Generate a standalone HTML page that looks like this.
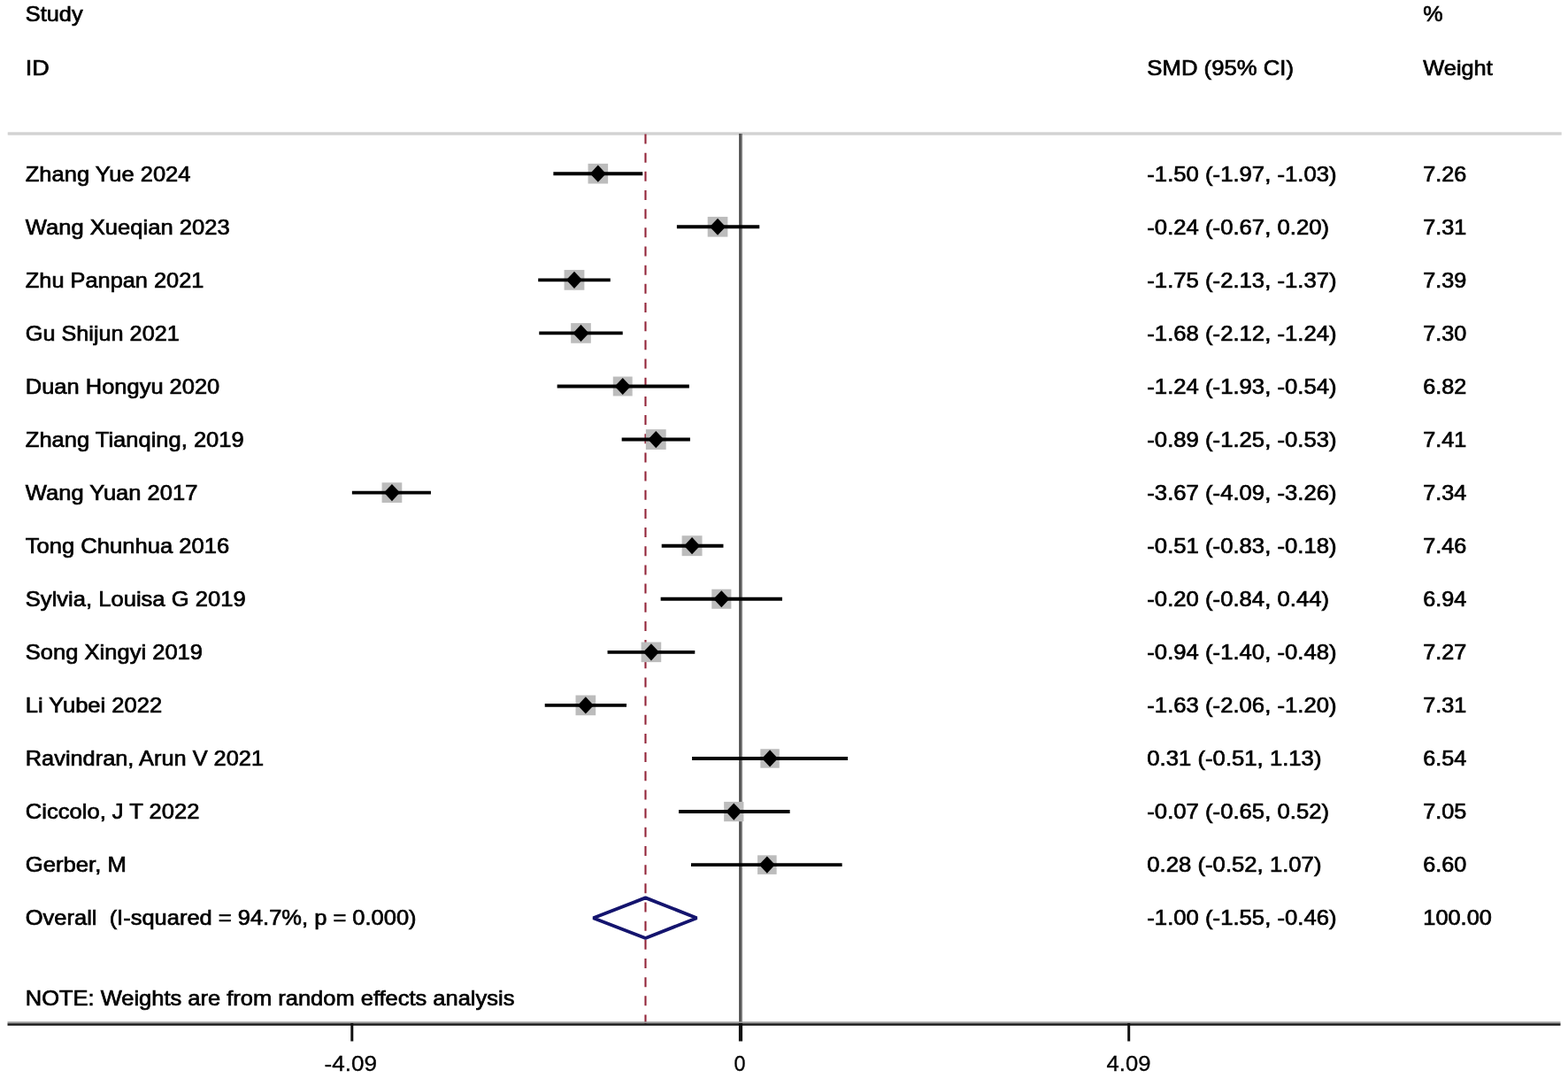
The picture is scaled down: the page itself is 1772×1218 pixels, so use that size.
<!DOCTYPE html>
<html><head><meta charset="utf-8"><style>
html,body{margin:0;padding:0;background:#fff;}
body{width:1772px;height:1218px;overflow:hidden;}
svg{display:block;filter:blur(0.4px);}
</style></head><body>
<svg width="1772" height="1218" viewBox="0 0 1772 1218">
<rect width="1772" height="1218" fill="#fff"/>
<rect x="8.7" y="149.3" width="1756" height="3.4" fill="#d2d2d2"/>
<rect x="835.2" y="151" width="1.9" height="1006" fill="#444"/>
<rect x="837.1" y="151" width="1.7" height="1006" fill="#666"/>
<line x1="729.48" y1="151.5" x2="729.48" y2="1157" stroke="#93263a" stroke-width="2.1" stroke-dasharray="11 10.17"/>
<rect x="664.52" y="184.90" width="22.60" height="22.60" fill="#bcbcbc"/>
<line x1="625.38" y1="196.20" x2="726.26" y2="196.20" stroke="#000" stroke-width="3.9"/>
<polygon points="666.82,196.20 675.82,186.60 684.82,196.20 675.82,205.80" fill="#000"/>
<rect x="799.70" y="244.93" width="22.68" height="22.68" fill="#bcbcbc"/>
<line x1="764.90" y1="256.27" x2="858.26" y2="256.27" stroke="#000" stroke-width="3.9"/>
<polygon points="802.04,256.27 811.04,246.67 820.04,256.27 811.04,265.87" fill="#000"/>
<rect x="637.59" y="304.94" width="22.80" height="22.80" fill="#bcbcbc"/>
<line x1="608.21" y1="316.34" x2="689.77" y2="316.34" stroke="#000" stroke-width="3.9"/>
<polygon points="639.99,316.34 648.99,306.74 657.99,316.34 648.99,325.94" fill="#000"/>
<rect x="645.17" y="365.08" width="22.66" height="22.66" fill="#bcbcbc"/>
<line x1="609.28" y1="376.41" x2="703.72" y2="376.41" stroke="#000" stroke-width="3.9"/>
<polygon points="647.50,376.41 656.50,366.81 665.50,376.41 656.50,386.01" fill="#000"/>
<rect x="692.77" y="425.53" width="21.90" height="21.90" fill="#bcbcbc"/>
<line x1="629.67" y1="436.48" x2="778.85" y2="436.48" stroke="#000" stroke-width="3.9"/>
<polygon points="694.72,436.48 703.72,426.88 712.72,436.48 703.72,446.08" fill="#000"/>
<rect x="729.87" y="485.13" width="22.83" height="22.83" fill="#bcbcbc"/>
<line x1="702.65" y1="496.55" x2="779.92" y2="496.55" stroke="#000" stroke-width="3.9"/>
<polygon points="732.29,496.55 741.29,486.95 750.29,496.55 741.29,506.15" fill="#000"/>
<rect x="431.57" y="545.26" width="22.72" height="22.72" fill="#bcbcbc"/>
<line x1="397.86" y1="556.62" x2="486.94" y2="556.62" stroke="#000" stroke-width="3.9"/>
<polygon points="433.94,556.62 442.94,547.02 451.94,556.62 442.94,566.22" fill="#000"/>
<rect x="770.61" y="605.24" width="22.91" height="22.91" fill="#bcbcbc"/>
<line x1="747.72" y1="616.69" x2="817.48" y2="616.69" stroke="#000" stroke-width="3.9"/>
<polygon points="773.07,616.69 782.07,607.09 791.07,616.69 782.07,626.29" fill="#000"/>
<rect x="804.29" y="665.71" width="22.10" height="22.10" fill="#bcbcbc"/>
<line x1="746.65" y1="676.76" x2="884.02" y2="676.76" stroke="#000" stroke-width="3.9"/>
<polygon points="806.34,676.76 815.34,667.16 824.34,676.76 815.34,686.36" fill="#000"/>
<rect x="724.61" y="725.52" width="22.62" height="22.62" fill="#bcbcbc"/>
<line x1="686.55" y1="736.83" x2="785.29" y2="736.83" stroke="#000" stroke-width="3.9"/>
<polygon points="726.92,736.83 735.92,727.23 744.92,736.83 735.92,746.43" fill="#000"/>
<rect x="650.53" y="785.56" width="22.68" height="22.68" fill="#bcbcbc"/>
<line x1="615.72" y1="796.90" x2="708.02" y2="796.90" stroke="#000" stroke-width="3.9"/>
<polygon points="652.87,796.90 661.87,787.30 670.87,796.90 661.87,806.50" fill="#000"/>
<rect x="859.34" y="846.24" width="21.45" height="21.45" fill="#bcbcbc"/>
<line x1="782.07" y1="856.97" x2="958.07" y2="856.97" stroke="#000" stroke-width="3.9"/>
<polygon points="861.07,856.97 870.07,847.37 879.07,856.97 870.07,866.57" fill="#000"/>
<rect x="818.15" y="905.90" width="22.27" height="22.27" fill="#bcbcbc"/>
<line x1="767.04" y1="917.04" x2="892.61" y2="917.04" stroke="#000" stroke-width="3.9"/>
<polygon points="820.29,917.04 829.29,907.44 838.29,917.04 829.29,926.64" fill="#000"/>
<rect x="856.08" y="966.34" width="21.55" height="21.55" fill="#bcbcbc"/>
<line x1="780.99" y1="977.11" x2="951.63" y2="977.11" stroke="#000" stroke-width="3.9"/>
<polygon points="857.85,977.11 866.85,967.51 875.85,977.11 866.85,986.71" fill="#000"/>
<polygon points="670.45,1037.18 729.48,1014.38 787.43,1037.18 729.48,1059.98" fill="none" stroke="#14146e" stroke-width="3.8" stroke-linejoin="bevel"/>
<rect x="8.5" y="1154.3" width="1755" height="2.1" fill="#9a9a9a"/>
<rect x="8.5" y="1156.3" width="1755" height="2.5" fill="#1a1a1a"/>
<rect x="396.30" y="1156" width="3" height="20.5" fill="#111"/>
<rect x="834.90" y="1156" width="4.2" height="20.5" fill="#111"/>
<rect x="1274.20" y="1156" width="3" height="20.5" fill="#111"/>
<g font-family="Liberation Sans, Arial, sans-serif" font-size="24.50px" fill="#000" stroke="#000" stroke-width="0.70">
<text x="28.80" y="24.30" textLength="64.75" lengthAdjust="spacingAndGlyphs">Study</text>
<text x="28.80" y="85.20" textLength="26.99" lengthAdjust="spacingAndGlyphs">ID</text>
<text x="1296.30" y="85.20" textLength="165.80" lengthAdjust="spacingAndGlyphs">SMD (95% CI)</text>
<text x="1608.30" y="24.30" textLength="22.40" lengthAdjust="spacingAndGlyphs">%</text>
<text x="1608.30" y="85.20" textLength="78.48" lengthAdjust="spacingAndGlyphs">Weight</text>
<text x="28.80" y="204.50" textLength="186.64" lengthAdjust="spacingAndGlyphs">Zhang Yue 2024</text>
<text x="1296.30" y="204.50" textLength="214.29" lengthAdjust="spacingAndGlyphs">-1.50 (-1.97, -1.03)</text>
<text x="1608.30" y="204.50" textLength="49.11" lengthAdjust="spacingAndGlyphs">7.26</text>
<text x="28.80" y="264.57" textLength="230.92" lengthAdjust="spacingAndGlyphs">Wang Xueqian 2023</text>
<text x="1296.30" y="264.57" textLength="205.73" lengthAdjust="spacingAndGlyphs">-0.24 (-0.67, 0.20)</text>
<text x="1608.30" y="264.57" textLength="49.11" lengthAdjust="spacingAndGlyphs">7.31</text>
<text x="28.80" y="324.64" textLength="201.64" lengthAdjust="spacingAndGlyphs">Zhu Panpan 2021</text>
<text x="1296.30" y="324.64" textLength="214.29" lengthAdjust="spacingAndGlyphs">-1.75 (-2.13, -1.37)</text>
<text x="1608.30" y="324.64" textLength="49.11" lengthAdjust="spacingAndGlyphs">7.39</text>
<text x="28.80" y="384.71" textLength="173.93" lengthAdjust="spacingAndGlyphs">Gu Shijun 2021</text>
<text x="1296.30" y="384.71" textLength="214.29" lengthAdjust="spacingAndGlyphs">-1.68 (-2.12, -1.24)</text>
<text x="1608.30" y="384.71" textLength="49.11" lengthAdjust="spacingAndGlyphs">7.30</text>
<text x="28.80" y="444.78" textLength="219.49" lengthAdjust="spacingAndGlyphs">Duan Hongyu 2020</text>
<text x="1296.30" y="444.78" textLength="214.29" lengthAdjust="spacingAndGlyphs">-1.24 (-1.93, -0.54)</text>
<text x="1608.30" y="444.78" textLength="49.11" lengthAdjust="spacingAndGlyphs">6.82</text>
<text x="28.80" y="504.85" textLength="246.90" lengthAdjust="spacingAndGlyphs">Zhang Tianqing, 2019</text>
<text x="1296.30" y="504.85" textLength="214.29" lengthAdjust="spacingAndGlyphs">-0.89 (-1.25, -0.53)</text>
<text x="1608.30" y="504.85" textLength="49.11" lengthAdjust="spacingAndGlyphs">7.41</text>
<text x="28.80" y="564.92" textLength="194.67" lengthAdjust="spacingAndGlyphs">Wang Yuan 2017</text>
<text x="1296.30" y="564.92" textLength="214.29" lengthAdjust="spacingAndGlyphs">-3.67 (-4.09, -3.26)</text>
<text x="1608.30" y="564.92" textLength="49.11" lengthAdjust="spacingAndGlyphs">7.34</text>
<text x="28.80" y="624.99" textLength="230.41" lengthAdjust="spacingAndGlyphs">Tong Chunhua 2016</text>
<text x="1296.30" y="624.99" textLength="214.29" lengthAdjust="spacingAndGlyphs">-0.51 (-0.83, -0.18)</text>
<text x="1608.30" y="624.99" textLength="49.11" lengthAdjust="spacingAndGlyphs">7.46</text>
<text x="28.80" y="685.06" textLength="248.81" lengthAdjust="spacingAndGlyphs">Sylvia, Louisa G 2019</text>
<text x="1296.30" y="685.06" textLength="205.73" lengthAdjust="spacingAndGlyphs">-0.20 (-0.84, 0.44)</text>
<text x="1608.30" y="685.06" textLength="49.11" lengthAdjust="spacingAndGlyphs">6.94</text>
<text x="28.80" y="745.13" textLength="200.21" lengthAdjust="spacingAndGlyphs">Song Xingyi 2019</text>
<text x="1296.30" y="745.13" textLength="214.29" lengthAdjust="spacingAndGlyphs">-0.94 (-1.40, -0.48)</text>
<text x="1608.30" y="745.13" textLength="49.11" lengthAdjust="spacingAndGlyphs">7.27</text>
<text x="28.80" y="805.20" textLength="154.37" lengthAdjust="spacingAndGlyphs">Li Yubei 2022</text>
<text x="1296.30" y="805.20" textLength="214.29" lengthAdjust="spacingAndGlyphs">-1.63 (-2.06, -1.20)</text>
<text x="1608.30" y="805.20" textLength="49.11" lengthAdjust="spacingAndGlyphs">7.31</text>
<text x="28.80" y="865.27" textLength="269.23" lengthAdjust="spacingAndGlyphs">Ravindran, Arun V 2021</text>
<text x="1296.30" y="865.27" textLength="197.18" lengthAdjust="spacingAndGlyphs">0.31 (-0.51, 1.13)</text>
<text x="1608.30" y="865.27" textLength="49.11" lengthAdjust="spacingAndGlyphs">6.54</text>
<text x="28.80" y="925.34" textLength="196.68" lengthAdjust="spacingAndGlyphs">Ciccolo, J T 2022</text>
<text x="1296.30" y="925.34" textLength="205.73" lengthAdjust="spacingAndGlyphs">-0.07 (-0.65, 0.52)</text>
<text x="1608.30" y="925.34" textLength="49.11" lengthAdjust="spacingAndGlyphs">7.05</text>
<text x="28.80" y="985.41" textLength="114.08" lengthAdjust="spacingAndGlyphs">Gerber, M</text>
<text x="1296.30" y="985.41" textLength="197.18" lengthAdjust="spacingAndGlyphs">0.28 (-0.52, 1.07)</text>
<text x="1608.30" y="985.41" textLength="49.11" lengthAdjust="spacingAndGlyphs">6.60</text>
<text x="28.80" y="1045.48" textLength="441.78" lengthAdjust="spacingAndGlyphs">Overall&#160; (I-squared = 94.7%, p = 0.000)</text>
<text x="1296.30" y="1045.48" textLength="214.29" lengthAdjust="spacingAndGlyphs">-1.00 (-1.55, -0.46)</text>
<text x="1608.30" y="1045.48" textLength="77.59" lengthAdjust="spacingAndGlyphs">100.00</text>
<text x="28.80" y="1136.20" textLength="552.62" lengthAdjust="spacingAndGlyphs">NOTE: Weights are from random effects analysis</text>
</g>
<g font-family="Liberation Sans, Arial, sans-serif" font-size="24px" fill="#000" stroke="#000" stroke-width="0.3">
<text x="366.44" y="1210.40" textLength="59.50" lengthAdjust="spacingAndGlyphs">-4.09</text>
<text x="829.38" y="1210.40" textLength="13.03" lengthAdjust="spacingAndGlyphs">0</text>
<text x="1250.61" y="1210.40" textLength="49.80" lengthAdjust="spacingAndGlyphs">4.09</text>
</g></svg>
</body></html>
